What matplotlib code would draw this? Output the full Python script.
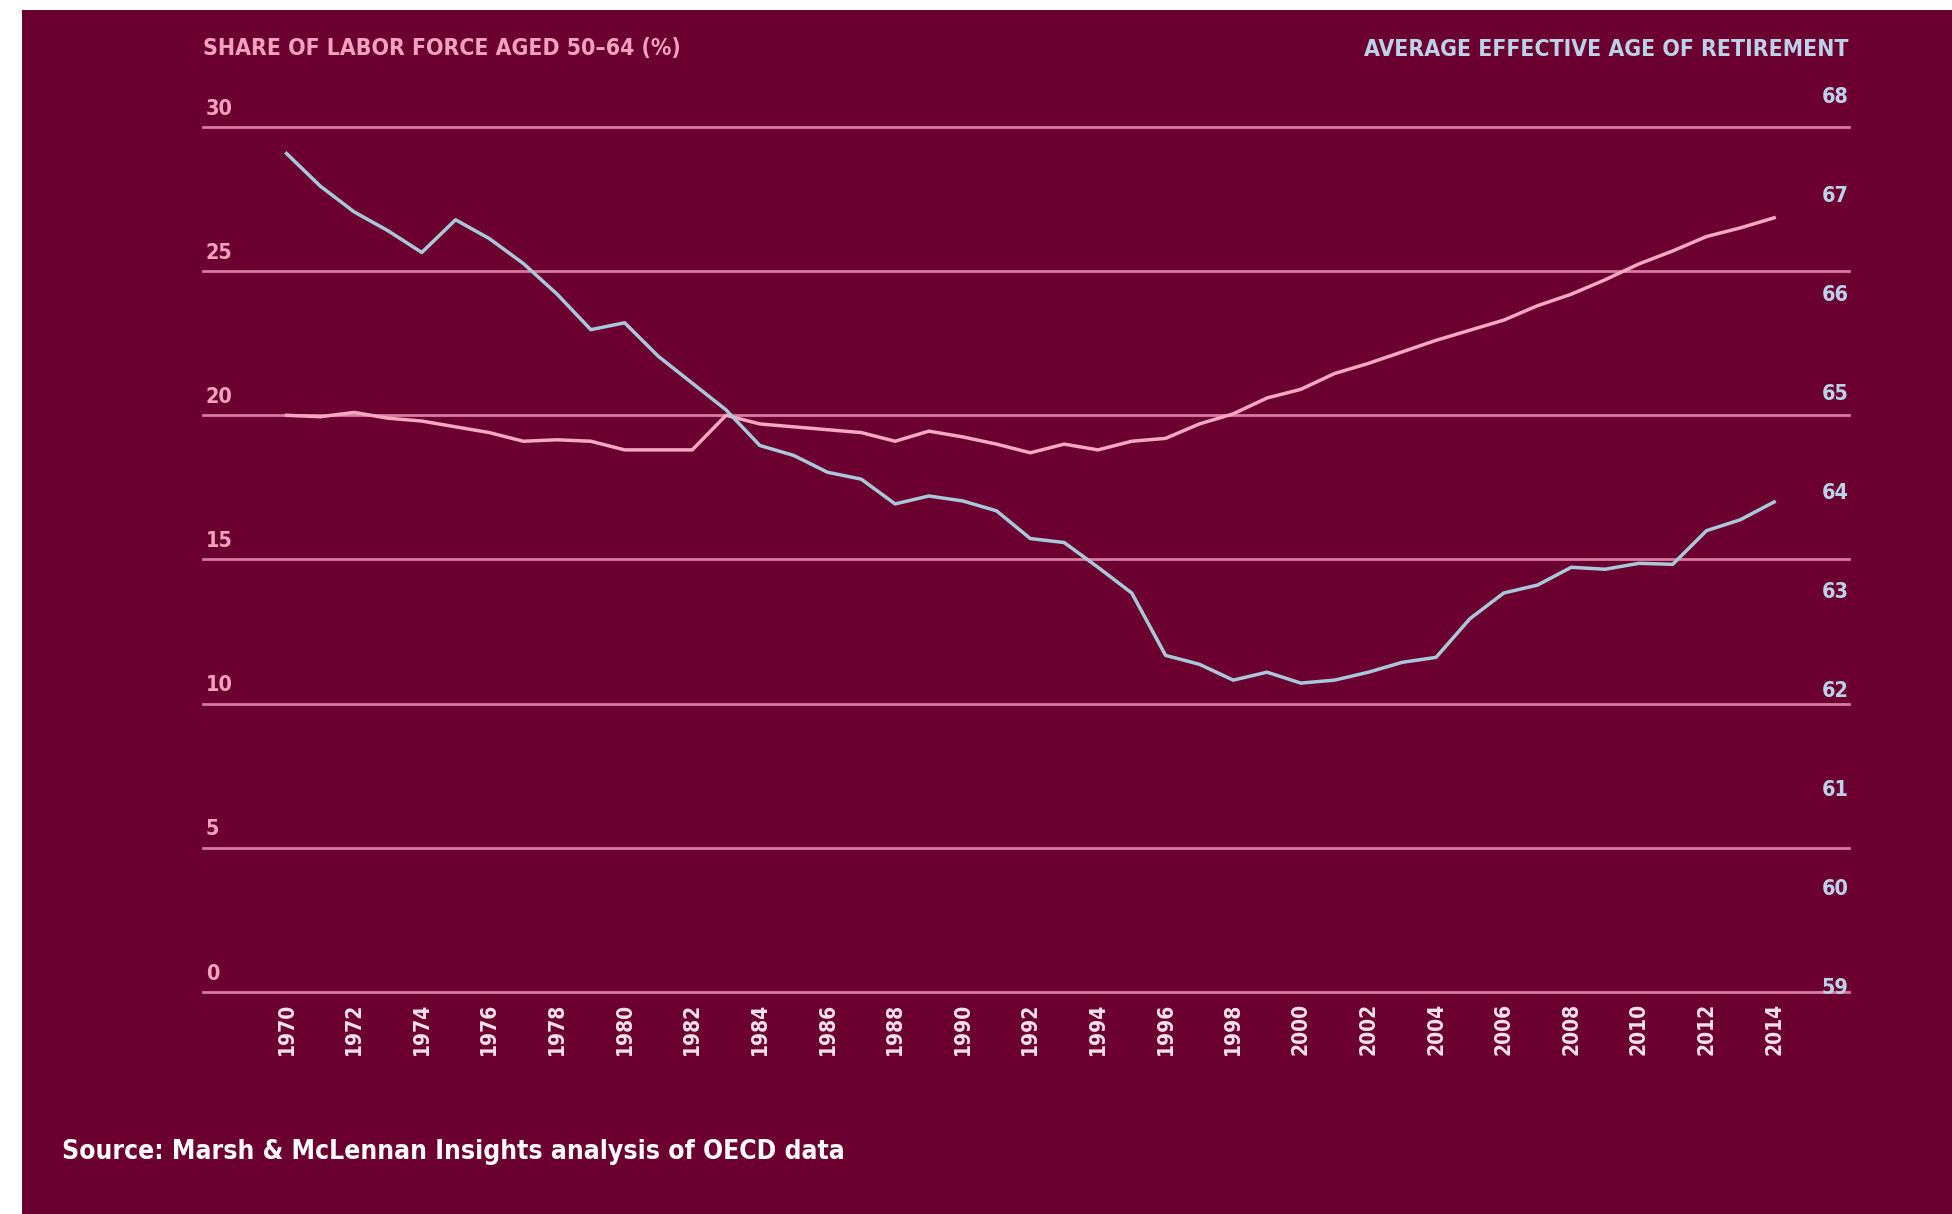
import matplotlib.pyplot as plt
from matplotlib.patches import Rectangle
import matplotlib.transforms as mtransforms

# Data
years = list(range(1970, 2015))

share_50_64 = [20.0, 19.95, 20.1, 19.9, 19.8, 19.6, 19.4, 19.1, 19.15, 19.1,
               18.8, 18.8, 18.8, 20.0, 19.7, 19.6, 19.5, 19.4, 19.1, 19.45,
               19.25, 19.0, 18.7, 19.0, 18.8, 19.1, 19.2, 19.7, 20.05, 20.6,
               20.9, 21.45, 21.8, 22.2, 22.6, 22.95, 23.3, 23.8, 24.2, 24.7,
               25.25, 25.7, 26.2, 26.5, 26.85]

retirement_age = [67.47, 67.14, 66.88, 66.69, 66.47, 66.80, 66.61, 66.36, 66.05, 65.69,
                  65.76, 65.42, 65.15, 64.88, 64.52, 64.42, 64.25, 64.18, 63.93, 64.01,
                  63.96, 63.86, 63.58, 63.54, 63.29, 63.03, 62.40, 62.31, 62.15, 62.23,
                  62.12, 62.15, 62.23, 62.33, 62.38, 62.77, 63.03, 63.11, 63.29, 63.27,
                  63.33, 63.32, 63.66, 63.77, 63.95]

left_ticks = [0, 5, 10, 15, 20, 25, 30]
right_ticks = [59, 60, 61, 62, 63, 64, 65, 66, 67, 68]
year_ticks = list(range(1970, 2015, 2))

left_title = 'SHARE OF LABOR FORCE AGED 50–64 (%)'
right_title = 'AVERAGE EFFECTIVE AGE OF RETIREMENT'
source = 'Source: Marsh & McLennan Insights analysis of OECD data'

# colours
bg = '#6B0030'
grid_col = '#D97AA2'
pink = '#F5A8C2'
blue = '#A9C9DA'
pink_lbl = '#F2A2BC'
blue_lbl = '#BBD2EA'
fnt = dict(family='DejaVu Sans', fontstretch='condensed')

fig = plt.figure(figsize=(19.52, 12.14), dpi=100, facecolor='white')
fig.patches.append(Rectangle((22 / 1952, 0), 1, 1 - 10 / 1214, transform=fig.transFigure,
                             facecolor=bg, edgecolor='none', zorder=-5))

ax = fig.add_axes([0.104, 0.1829, 0.843, 0.7339])
ax.set_facecolor('none')
ax2 = ax.twinx()
ax2.set_facecolor('none')

ax.set_xlim(1967.53, 2016.2)
ax.set_ylim(0, 30.9)
ax2.set_ylim(59, 68)

for v in left_ticks:
    ax.axhline(v, color=grid_col, linewidth=2.0, zorder=1, clip_on=False)

ax.plot(years, share_50_64, color=pink, linewidth=2.5, zorder=3, solid_joinstyle='round')
ax2.plot(years, retirement_age, color=blue, linewidth=2.5, zorder=3, solid_joinstyle='round')

for a in (ax, ax2):
    for s in a.spines.values():
        s.set_visible(False)
    a.set_yticks([])
ax.tick_params(axis='x', length=0, pad=8)
ax.set_xticks(year_ticks)
ax.set_xticklabels([str(y) for y in year_ticks], rotation=90, color='#F3E2EA',
                   fontsize=15, fontweight='bold', **fnt)

# left labels sit above the gridlines
off = mtransforms.offset_copy(ax.get_yaxis_transform(), fig=fig, x=2, y=6, units='points')
for v in left_ticks:
    ax.text(0, v, str(v), transform=off, ha='left', va='bottom', color=pink_lbl,
            fontsize=15.5, fontweight='bold', **fnt)

# right labels, right aligned at the end of the gridlines
off_r = mtransforms.offset_copy(ax2.get_yaxis_transform(), fig=fig, x=0, y=3, units='points')
for v in right_ticks:
    ax2.text(1, v, str(v), transform=off_r, ha='right', va='center',
             color=blue_lbl, fontsize=15.5, fontweight='bold', **fnt)

fig.text(0.104, 1 - 49 / 1214, left_title, ha='left', va='center', color=pink_lbl,
         fontsize=16.5, fontweight='bold', **fnt)
fig.text(0.947, 1 - 49 / 1214, right_title, ha='right', va='center', color=blue_lbl,
         fontsize=16.5, fontweight='bold', **fnt)
fig.text(62 / 1952, 1 - 1152 / 1214, source, ha='left', va='center', color='white',
         fontsize=19, fontweight='bold', **fnt)

fig.savefig('out.png', dpi=100, facecolor=fig.get_facecolor())
